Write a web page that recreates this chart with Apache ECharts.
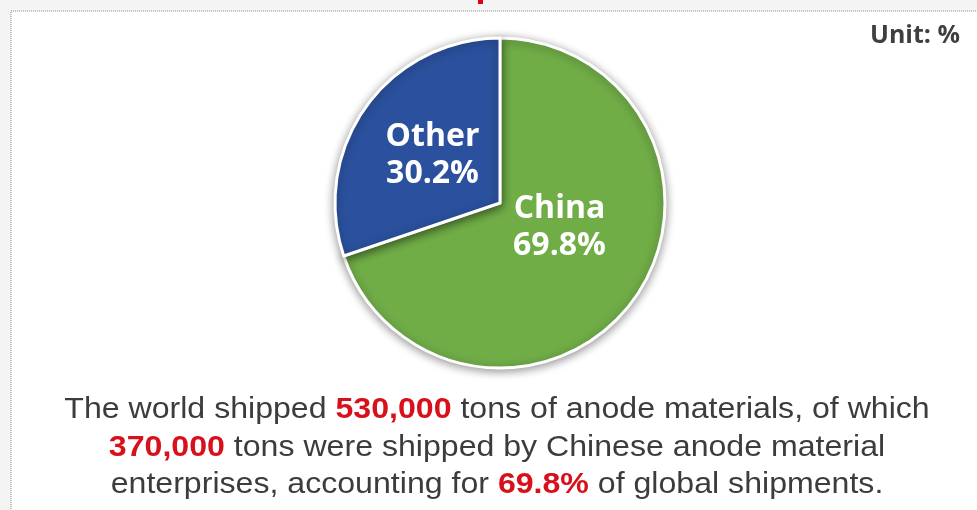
<!DOCTYPE html>
<html><head><meta charset="utf-8">
<script src="https://cdn.jsdelivr.net/npm/echarts@6/dist/echarts.min.js"></script>
<style>html,body{margin:0;padding:0;background:#f4f4f4}#c{width:977px;height:510px}</style>
</head><body><div id="c"></div>
<script>
const categories = ['China', 'Other'];
const shares = [69.8, 30.2];
const sliceColors = ['#70AD47', '#2B519E'];
const unitText = 'Unit: %';
const noteLines = [
  ['The world shipped ', '530,000', ' tons of anode materials, of which'],
  ['', '370,000', ' tons were shipped by Chinese anode material'],
  ['enterprises, accounting for ', '69.8%', ' of global shipments.']
];

const chart = echarts.init(document.getElementById('c'), null, {renderer: 'canvas'});
const labelOffsets = [[-10, -25], [2, 2]];
const data = categories.map((c, i) => ({
  name: c, value: shares[i],
  itemStyle: {color: sliceColors[i]},
  label: {offset: labelOffsets[i]}
}));

const graphics = [
  {type: 'rect', z: -10, shape: {x: 11, y: 11, width: 1000, height: 520},
   style: {fill: '#ffffff', stroke: '#8a8a8a', lineWidth: 1, lineDash: [1, 1]}},
  {type: 'rect', z: -9, shape: {x: 478, y: 0, width: 5, height: 4}, style: {fill: '#e00010'}},
  {type: 'text', right: 17, top: 23, style: {text: unitText, font: 'bold 25px "Open Sans"', fill: '#3f3f3f'}}
];
noteLines.forEach((ln, i) => {
  const t = (ln[0] ? '{n|' + ln[0] + '}' : '') + '{r|' + ln[1] + '}' + '{n|' + ln[2] + '}';
  graphics.push({
    type: 'text', x: 497, y: 410 + i * 37.5, scaleX: 1.07,
    style: {
      text: t, align: 'center', verticalAlign: 'middle',
      rich: {
        n: {fontFamily: 'Liberation Sans, Arial', fontSize: 30, fill: '#3c3c3c'},
        r: {fontFamily: 'Liberation Sans, Arial', fontSize: 30, fontWeight: 'bold', fill: '#d7101c'}
      }
    }
  });
});

chart.setOption({
  backgroundColor: 'transparent',
  animation: false,
  graphic: graphics,
  series: [{
    type: 'pie',
    center: [500, 203],
    radius: 165,
    startAngle: 90,
    data: data,
    itemStyle: {borderColor: '#ffffff', borderWidth: 3, shadowBlur: 10, shadowColor: 'rgba(0,0,0,0.4)', shadowOffsetY: 2},
    label: {
      position: 'inside', formatter: '{b}\n{c}%',
      color: '#ffffff', fontFamily: 'Open Sans', fontWeight: 'bold', fontSize: 32, lineHeight: 37
    },
    labelLine: {show: false},
    emphasis: {disabled: true}
  }]
});
</script></body></html>
